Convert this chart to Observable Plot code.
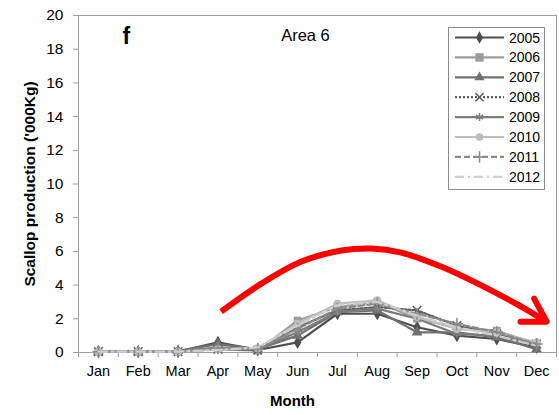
<!DOCTYPE html>
<html><head><meta charset="utf-8">
<script src="https://cdn.jsdelivr.net/npm/d3@7"></script>
<script src="https://cdn.jsdelivr.net/npm/@observablehq/plot@0.6"></script>
<style>
body{margin:0;background:#fff;font-family:"Liberation Sans",Arial,sans-serif;}
#wrap{position:relative;width:559px;height:415px;overflow:hidden;}
#legend{position:absolute;left:448px;top:27px;width:97px;height:163px;border:1px solid #8c8c8c;background:#fff;box-sizing:border-box;}
</style></head><body><div id="wrap"><div id="legend"></div></div>
<script>
const months = ["Jan","Feb","Mar","Apr","May","Jun","Jul","Aug","Sep","Oct","Nov","Dec"];
const years = ["2005","2006","2007","2008","2009","2010","2011","2012"];
const yTicks = [0,2,4,6,8,10,12,14,16,18,20];
const v2005 = [0.05,0.05,0.05,0.6,0.15,0.6,2.3,2.3,1.5,1.0,0.8,0.3];
const v2006 = [0.05,0.05,0.05,0.2,0.1,1.9,2.7,3.0,2.0,1.5,1.3,0.5];
const v2007 = [0.05,0.05,0.1,0.5,0.2,1.0,2.4,2.5,1.2,1.2,0.9,0.2];
const v2008 = [0.05,0.05,0.05,0.2,0.15,1.5,2.5,2.7,2.5,1.6,1.1,0.5];
const v2009 = [0.05,0.05,0.05,0.3,0.2,1.2,2.4,2.6,2.0,1.1,1.0,0.4];
const v2010 = [0.05,0.05,0.05,0.2,0.25,1.7,2.9,3.1,2.1,1.4,1.2,0.6];
const v2011 = [0.05,0.05,0.05,0.25,0.2,1.4,2.6,2.9,2.3,1.7,1.2,0.5];
const v2012 = [0.05,0.05,0.05,0.15,0.3,1.6,2.8,3.0,2.2,1.5,1.0,0.4];
const seriesValues = [v2005,v2006,v2007,v2008,v2009,v2010,v2011,v2012];
const colors = ["#4f4f4f","#9c9c9c","#707070","#5e5e5e","#7c7c7c","#bdbdbd","#8a8a8a","#cfcfcf"];
const dashes = [null,null,null,"2,2",null,null,"6,3","9,4,2,4"];
const symbols = ["diamond","square","triangle","times","asterisk","circle","plus",null];
// hand-drawn annotation arrow path, in (month index, value) units
const arrowX = [3.08, 4.1, 5.1, 6.1, 6.85, 7.6, 8.6, 9.6, 10.6];
const arrowY = [2.43, 4.1, 5.4, 6.05, 6.17, 5.93, 5.1, 4.0, 2.75];
const arrowTail = {x: 9.3, y: 4.57};   // point back along the head's direction
const arrowTip = {x: 11.25, y: 1.84};

const rows = [];
years.forEach((yr, k) => seriesValues[k].forEach((v, i) => rows.push({year: yr, month: months[i], idx: i, value: v})));
const arrowPts = arrowX.map((x, i) => ({x, y: arrowY[i]}));

const bounds = months.map((m, i) => i - 0.5).concat([months.length - 0.5]);
const centers = months.map((m, i) => i);

const seriesMarks = [];
years.forEach((yr, k) => {
  const d = rows.filter(r => r.year === yr);
  seriesMarks.push(Plot.line(d, {x: "idx", y: "value", stroke: colors[k], strokeWidth: 2.2, strokeDasharray: dashes[k] || undefined}));
  const s = symbols[k];
  if (s) {
    const strokeSym = (s === "times" || s === "asterisk" || s === "plus");
    seriesMarks.push(Plot.dot(d, {x: "idx", y: "value", symbol: s, r: s === "square" ? 4.3 : 4,
      fill: strokeSym ? "none" : colors[k], stroke: strokeSym ? colors[k] : "none", strokeWidth: 1.5}));
  }
});

const chart = Plot.plot({
  width: 559, height: 415,
  marginLeft: 78, marginRight: 3, marginTop: 15, marginBottom: 63,
  x: {type: "linear", domain: [-0.5, 11.5]},
  y: {domain: [0, 20]},
  style: {fontFamily: "Liberation Sans, Arial, sans-serif", fontSize: "15px", color: "#000", background: "white"},
  marks: [
    Plot.frame({stroke: "#a0a0a0"}),
    Plot.axisY({ticks: yTicks, tickSize: 5, tickPadding: 10, stroke: "#a0a0a0", label: null, fontSize: 15.5, tickFormat: d => String(d)}),
    Plot.axisX({ticks: bounds, tickSize: 5, stroke: "#a0a0a0", label: null, tickFormat: () => ""}),
    Plot.axisX({ticks: centers, tickSize: 0, tickPadding: 13, label: null, fontSize: 14.5, tickFormat: i => months[i]}),
    ...seriesMarks,
    Plot.line(arrowPts, {x: "x", y: "y", curve: "catmull-rom", stroke: "#ff0000", strokeWidth: 6, strokeLinecap: "butt"}),
    Plot.arrow([{from: arrowTail, to: arrowTip}], {x1: d => d.from.x, y1: d => d.from.y, x2: d => d.to.x, y2: d => d.to.y,
      insetStart: 58, stroke: "#ff0000", strokeWidth: 6, headLength: 6.5, headAngle: 62}),
    Plot.text(["Scallop production ('000Kg)"], {text: d => d, frameAnchor: "left", textAnchor: "middle", dx: -48, rotate: -90, fontWeight: "bold", fontSize: 15.5}),
    Plot.text(["Month"], {text: d => d, frameAnchor: "bottom", dx: -25, dy: 53, fontWeight: "bold", fontSize: 15}),
    Plot.text(["f"], {text: d => d, frameAnchor: "top-left", dx: 44, dy: 12, fontWeight: "bold", fontSize: 23}),
    Plot.text(["Area 6"], {text: d => d, frameAnchor: "top", dx: -12, dy: 14, fontSize: 16.5})
  ]
});
document.getElementById("wrap").prepend(chart);

// legend
const lsvg = d3.select("#legend").append("svg").attr("width", 95).attr("height", 161).style("display", "block");
const symMap = {diamond: d3.symbolDiamond, square: d3.symbolSquare, triangle: d3.symbolTriangle, times: d3.symbolTimes, asterisk: d3.symbolAsterisk, circle: d3.symbolCircle, plus: d3.symbolPlus};
years.forEach((yr, k) => {
  const cy = 9.5 + k * 19.9;
  const g = lsvg.append("g").attr("transform", `translate(0,${cy})`);
  g.append("line").attr("x1", 6).attr("x2", 55).attr("y1", 0).attr("y2", 0)
    .attr("stroke", colors[k]).attr("stroke-width", 2.2).attr("stroke-dasharray", dashes[k]);
  const s = symbols[k];
  if (s) {
    const strokeSym = (s === "times" || s === "asterisk" || s === "plus");
    g.append("path").attr("transform", "translate(30.5,0)").attr("d", d3.symbol(symMap[s], s === "square" ? 70 : 45)())
      .attr("fill", strokeSym ? "none" : colors[k]).attr("stroke", strokeSym ? colors[k] : "none").attr("stroke-width", 1.5);
  }
  g.append("text").attr("x", 60).attr("y", 0).attr("dy", "0.36em").attr("font-size", 14).attr("fill", "#000").text(yr);
});
</script>
</body></html>
